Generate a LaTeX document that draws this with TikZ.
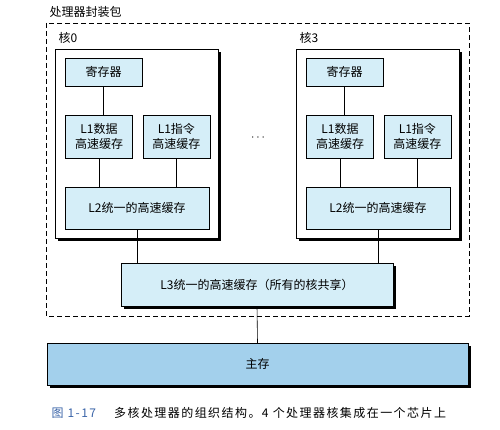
\documentclass[tikz,border=0pt]{standalone}
\usepackage{fontspec}
\setmainfont{Noto Sans CJK SC}
\usepackage{tikz}
\usetikzlibrary{positioning, shadows}
\definecolor{cachecol}{HTML}{D5EEF8}
\definecolor{memcol}{HTML}{A3D0EC}
\definecolor{capcol}{HTML}{3A64A8}
\tikzstyle{cache} = [rectangle, draw=black, fill=cachecol, align=center, inner sep=0pt]
\tikzstyle{core} = [rectangle, draw=black, fill=white, minimum width=163pt, minimum height=189pt, drop shadow={shadow xshift=3pt, shadow yshift=-3pt, fill=black, opacity=1}]
\tikzstyle{shadowed} = [drop shadow={shadow xshift=3pt, shadow yshift=-3pt, fill=black, opacity=1}]
\tikzstyle{link} = [black, line width=0.6pt]

\begin{document}
\begin{tikzpicture}[x=1pt, y=-1pt, font=\fontsize{12}{15}\selectfont]
            \useasboundingbox[fill=white] (0,0) rectangle (500,430);
            % package
            \node(pkglabel)[anchor=west] at (46,12) {处理器封装包};
            \draw[dashed, line width=0.7pt, dash pattern=on 5pt off 3pt] (46,23) rectangle (469,316);
            % core 0
            \node(core0)[core] at (136.5,143.5) {};
            \node(corelabel0)[anchor=west] at (55,38) {核0};
            \node(reg0)[cache, minimum width=77pt, minimum height=28pt] at (103.5,72) {寄存器};
            \node(dat0)[cache, minimum width=67pt, minimum height=43pt] at (99,136.5) {L1数据\\高速缓存};
            \node(ins0)[cache, minimum width=67pt, minimum height=43pt, right=10pt of dat0] {L1指令\\高速缓存};
            \node(ltwo0)[cache, minimum width=144pt, minimum height=42pt] at (137,208) {L2统一的高速缓存};
            % core 3
            \node(core3)[core] at ([xshift=241pt]core0) {};
            \node(corelabel3)[anchor=west] at ([xshift=241pt]corelabel0.west) {核3};
            \node(reg3)[cache, minimum width=77pt, minimum height=28pt] at ([xshift=241pt]reg0) {寄存器};
            \node(dat3)[cache, minimum width=67pt, minimum height=43pt] at ([xshift=241pt]dat0) {L1数据\\高速缓存};
            \node(ins3)[cache, minimum width=67pt, minimum height=43pt, right=10pt of dat3] {L1指令\\高速缓存};
            \node(ltwo3)[cache, minimum width=144pt, minimum height=42pt] at ([xshift=241pt]ltwo0) {L2统一的高速缓存};
            \node(dots) at (258,138) {$\cdots$};
            % shared
            \node(lthree)[cache, shadowed, minimum width=272pt, minimum height=43pt] at (257,284.5) {L3统一的高速缓存（所有的核共享）};
            \node(mem)[cache, shadowed, fill=memcol, minimum width=421pt, minimum height=42pt] at (257.5,364) {主存};
            \node(caption)[anchor=west, font=\fontsize{12}{15}\selectfont\addfontfeatures{LetterSpace=12}] at (48,413) {\textcolor{capcol}{图 1-17}\hspace{1.5em}多核处理器的组织结构。4 个处理器核集成在一个芯片上};
            % links
            \draw[link](reg0.south)--(reg0.south |- dat0.north);
            \draw[link](reg3.south)--(reg3.south |- dat3.north);
            \draw[link](dat0.south)--(dat0.south |- ltwo0.north);
            \draw[link](ins0.south)--(ins0.south |- ltwo0.north);
            \draw[link](dat3.south)--(dat3.south |- ltwo3.north);
            \draw[link](ins3.south)--(ins3.south |- ltwo3.north);
            \draw[link](ltwo0.south)--(ltwo0.south |- lthree.north);
            \draw[link](ltwo3.south)--(ltwo3.south |- lthree.north);
            \draw[link](lthree.south)--(mem.north);
\end{tikzpicture}
\end{document}
